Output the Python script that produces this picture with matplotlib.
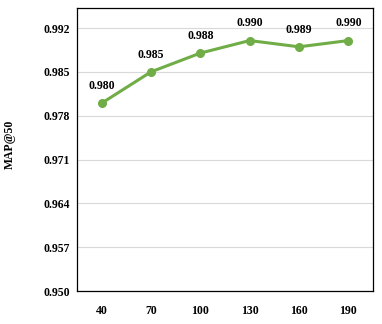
import matplotlib
matplotlib.use("Agg")
import matplotlib.pyplot as plt

categories = ["40", "70", "100", "130", "160", "190"]
values = [0.980, 0.985, 0.988, 0.990, 0.989, 0.990]
labels = ["0.980", "0.985", "0.988", "0.990", "0.989", "0.990"]
yticks = [0.950, 0.957, 0.964, 0.971, 0.978, 0.985, 0.992]

plt.rcParams['font.family'] = ['Liberation Serif', 'DejaVu Serif']
plt.rcParams['font.weight'] = 'bold'

fig = plt.figure(figsize=(3.82, 3.24), dpi=100)
ax = fig.add_axes([77/382, 1-291/324, 296/382, 283/324])

x = list(range(len(categories)))
ax.plot(x, values, color='#70AD47', lw=2.2, marker='o', ms=5.5, zorder=3)
for xi, v, lab in zip(x, values, labels):
    ax.annotate(lab, (xi, v), xytext=(0, 8), textcoords='offset points',
                ha='center', va='bottom', fontsize=8.5, fontweight='bold')

ax.set_xlim(-0.5, len(categories) - 0.5)
ax.set_ylim(0.950, 0.9952)
ax.set_xticks(x)
ax.set_xticklabels(categories, fontsize=8.5, fontweight='bold')
ax.set_yticks(yticks)
ax.set_yticklabels([f"{t:.3f}" for t in yticks], fontsize=8.5, fontweight='bold')
ax.tick_params(axis='x', length=0, pad=10)
ax.tick_params(axis='y', length=0, pad=5)
ax.grid(axis='y', color='#d9d9d9', lw=0.8)
ax.set_axisbelow(True)
for s in ax.spines.values():
    s.set_color('black')
    s.set_linewidth(0.9)
ax.set_ylabel("MAP@50", fontsize=8.5, fontweight='bold')
ax.yaxis.set_label_coords(-0.208, 0.519)

fig.savefig("out.png", dpi=100)
